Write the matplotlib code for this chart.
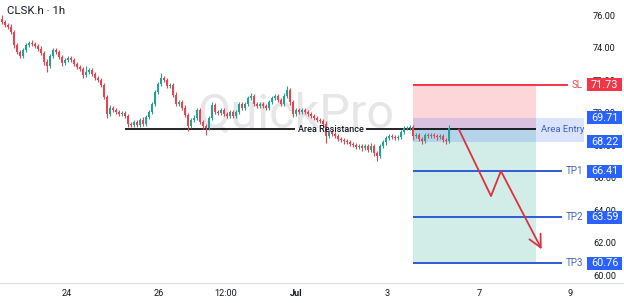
import numpy as np
import matplotlib
matplotlib.use("Agg")
import matplotlib.pyplot as plt
from matplotlib.patches import Rectangle
from matplotlib.transforms import blended_transform_factory

plt.rcParams['font.family'] = ['Roboto', 'DejaVu Sans']

# --- data (hourly candles, CLSK) ---
open0 = 75.80
closes = [
    75.59, 75.40, 75.28, 74.97, 74.17, 73.74, 73.50, 73.86, 74.17, 74.30,
    74.23, 74.11, 73.93, 73.68, 73.13, 72.88, 73.50, 73.86, 73.74, 73.43,
    73.06, 73.25, 73.37, 73.25, 73.00, 72.82, 72.70, 72.33, 72.51, 72.63,
    72.39, 72.14, 72.02, 71.71, 70.97, 69.93, 70.30, 70.17, 70.05, 69.93,
    69.99, 69.80, 69.31, 69.25, 69.43, 69.25, 69.56, 69.31, 69.74, 70.05,
    70.54, 71.28, 71.77, 72.14, 72.02, 71.65, 71.71, 71.10, 70.54, 70.66,
    70.30, 69.86, 69.19, 69.56, 69.68, 70.17, 69.43, 69.19, 69.06, 69.68,
    70.48, 70.05, 69.99, 70.17, 69.93, 69.80, 70.05, 69.80, 70.05, 70.54,
    70.30, 70.54, 70.91, 71.03, 70.54, 70.42, 70.54, 70.42, 70.30, 70.66,
    70.91, 71.03, 70.79, 70.54, 71.03, 71.40, 70.66, 69.93, 70.17, 70.05,
    70.17, 70.05, 69.93, 69.80, 69.68, 69.56, 69.49, 69.31, 68.57, 68.82,
    68.69, 68.57, 68.39, 68.33, 68.26, 68.20, 68.08, 68.02, 67.89, 67.96,
    67.83, 67.96, 67.71, 67.96, 67.53, 67.34, 67.96, 68.20, 68.45, 68.57,
    68.51, 68.45, 68.51, 68.82, 69.06, 69.06, 69.13, 68.57, 68.63, 68.39,
    68.26, 68.63, 68.57, 68.63, 68.57, 68.51, 68.57, 68.33, 68.26, 69.06,
]
wick_hi = [
    0.20, 0.15, 0.10, 0.20, 0.15, 0.10, 0.10, 0.15, 0.10, 0.10,
    0.15, 0.10, 0.10, 0.15, 0.10, 0.20, 0.10, 0.15, 0.10, 0.10,
    0.15, 0.10, 0.10, 0.15, 0.10, 0.10, 0.15, 0.10, 0.35, 0.10,
    0.10, 0.15, 0.10, 0.10, 0.10, 0.15, 0.20, 0.10, 0.15, 0.10,
    0.10, 0.15, 0.10, 0.10, 0.15, 0.10, 0.10, 0.20, 0.10, 0.15,
    0.10, 0.15, 0.10, 0.30, 0.10, 0.15, 0.10, 0.10, 0.15, 0.10,
    0.10, 0.15, 0.10, 0.15, 0.20, 0.10, 0.15, 0.10, 0.10, 0.15,
    0.20, 0.10, 0.10, 0.15, 0.10, 0.10, 0.15, 0.10, 0.10, 0.15,
    0.10, 0.10, 0.15, 0.20, 0.10, 0.15, 0.10, 0.10, 0.15, 0.10,
    0.10, 0.15, 0.10, 0.10, 0.20, 0.25, 0.10, 0.15, 0.10, 0.10,
    0.15, 0.10, 0.10, 0.15, 0.10, 0.10, 0.15, 0.10, 0.20, 0.10,
    0.15, 0.10, 0.10, 0.15, 0.10, 0.10, 0.15, 0.10, 0.10, 0.15,
    0.10, 0.15, 0.10, 0.20, 0.10, 0.10, 0.15, 0.10, 0.15, 0.10,
    0.10, 0.15, 0.10, 0.15, 0.10, 0.15, 0.10, 0.10, 0.15, 0.10,
    0.10, 0.10, 0.15, 0.10, 0.10, 0.10, 0.15, 0.10, 0.10, 0.20,
]
wick_lo = [
    0.10, 0.15, 0.10, 0.10, 0.20, 0.10, 0.15, 0.10, 0.10, 0.15,
    0.10, 0.10, 0.15, 0.10, 0.20, 0.35, 0.10, 0.10, 0.15, 0.10,
    0.15, 0.10, 0.10, 0.10, 0.15, 0.10, 0.10, 0.20, 0.10, 0.10,
    0.15, 0.10, 0.10, 0.15, 0.10, 0.25, 0.10, 0.15, 0.10, 0.10,
    0.15, 0.10, 0.20, 0.10, 0.10, 0.15, 0.10, 0.10, 0.15, 0.10,
    0.10, 0.10, 0.15, 0.10, 0.10, 0.15, 0.10, 0.10, 0.15, 0.10,
    0.15, 0.10, 0.30, 0.10, 0.10, 0.15, 0.10, 0.20, 0.45, 0.10,
    0.10, 0.15, 0.10, 0.10, 0.15, 0.10, 0.10, 0.15, 0.10, 0.10,
    0.15, 0.10, 0.10, 0.10, 0.15, 0.10, 0.10, 0.15, 0.10, 0.10,
    0.10, 0.15, 0.10, 0.10, 0.10, 0.10, 0.15, 0.20, 0.10, 0.10,
    0.15, 0.10, 0.10, 0.10, 0.15, 0.10, 0.10, 0.15, 0.40, 0.10,
    0.10, 0.15, 0.10, 0.10, 0.15, 0.10, 0.10, 0.15, 0.10, 0.10,
    0.15, 0.10, 0.15, 0.10, 0.20, 0.30, 0.10, 0.10, 0.15, 0.10,
    0.10, 0.15, 0.10, 0.10, 0.15, 0.10, 0.10, 0.25, 0.10, 0.15,
    0.20, 0.10, 0.15, 0.10, 0.10, 0.20, 0.10, 0.15, 0.20, 0.10,
]

# trade setup levels
sl = 71.73
entry_hi, entry_lo = 69.71, 68.22
resistance = 68.98
tps = [("TP1", 66.41), ("TP2", 63.59), ("TP3", 60.76)]
# projected path (bar index, price)
path_x = [152.3, 163.0, 166.3]
path_y = [68.98, 64.88, 66.42]
arrow_tip = (179.9, 61.6)

xtick_pos = [21.67, 52.33, 74.67, 98.0, 128.33, 159.0, 189.33]
xtick_lbl = ["24", "26", "12:00", "Jul", "3", "7", "9"]
ytick_vals = [60, 62, 64, 66, 68, 70, 72, 74, 76]

UP, DN = '#22a294', '#e9434f'
RED, BLUE = '#f23645', '#2962ff'

fig = plt.figure(figsize=(6.24, 3.03), dpi=100)
ax = fig.add_axes([0, 20 / 303, 1, 283 / 303])
ax.set_xlim(-0.667, 207.33)
ax.set_ylim(59.53, 76.94)

closes = np.array(closes)
opens = np.r_[open0, closes[:-1]]
highs = np.maximum(opens, closes) + np.array(wick_hi)
lows = np.minimum(opens, closes) - np.array(wick_lo)
x = np.arange(len(closes))
cols = np.where(closes >= opens, UP, DN)

# watermark
ax.text(0.474, 0.548, "QuickPro", transform=ax.transAxes, fontsize=35,
        color='#e6e6e9', ha='center', va='baseline', zorder=0)

# zones
bx0, bx1 = 137.0, 178.0
ax.add_patch(Rectangle((bx0, resistance), bx1 - bx0, sl - resistance,
                       color=RED, alpha=0.2, lw=0, zorder=1))
ax.add_patch(Rectangle((bx0, tps[-1][1]), bx1 - bx0, resistance - tps[-1][1],
                       color='#089981', alpha=0.18, lw=0, zorder=1))
ax.add_patch(Rectangle((bx0, entry_lo), 194.0 - bx0, entry_hi - entry_lo,
                       color=BLUE, alpha=0.17, lw=0, zorder=1))

# resistance line, broken around its label
ax.hlines(resistance, 41.0, 97.7, color='black', lw=1.2, zorder=2)
ax.hlines(resistance, 121.3, bx1, color='black', lw=1.2, zorder=2)
ax.text(109.5, resistance, "Area Resistance", ha='center', va='center',
        fontsize=6.5, fontweight='medium', color='#131722', zorder=5)

# candles
ax.vlines(x, lows, highs, colors=cols, lw=0.8, zorder=3)
ax.bar(x, closes - opens, bottom=opens, width=0.72, color=cols, lw=0, zorder=3)

# SL / TP lines
ax.hlines(sl, bx0, 188.7, color=RED, lw=1.4, zorder=4)
for name, lvl in tps:
    ax.hlines(lvl, bx0, 186.7, color='#1e4fd6', lw=1.3, zorder=4)

trans = blended_transform_factory(ax.transAxes, ax.transData)
ax.text(0.925, sl, "SL", transform=trans, ha='center', va='center',
        fontsize=7, color='#e0505e', zorder=5)
for name, lvl in tps:
    ax.text(0.921, lvl, name, transform=trans, ha='center', va='center',
            fontsize=7, color='#4a64b4', zorder=5)
ax.text(0.901, resistance, "Area Entry", transform=trans, ha='center',
        va='center', fontsize=6.8, color='#3f63c4', zorder=5)

# price boxes on the scale
boxes = [(sl, RED)] + [(entry_hi, BLUE), (entry_lo, BLUE)] + [(v, BLUE) for _, v in tps]
for val, c in boxes:
    ax.add_patch(Rectangle((0.9407, val - 0.4), 0.0561, 0.8, transform=trans,
                           color=c, lw=0, zorder=6, clip_on=False))
    ax.text(0.969, val, f"{val:.2f}", transform=trans, ha='center', va='center',
            fontsize=7.8, color='white', zorder=7)

# projected move
ax.plot(path_x, path_y, color='#d9323f', lw=1.3, zorder=5, solid_capstyle='round')
ax.annotate("", xy=arrow_tip, xytext=(path_x[-1], path_y[-1]),
            arrowprops=dict(arrowstyle='->,head_length=0.9,head_width=0.45',
                            color='#d9323f', lw=1.3, shrinkA=0, shrinkB=0),
            zorder=5)

# title
ax.text(0.011, 0.961, "CLSK.h · 1h", transform=ax.transAxes, fontsize=8.2,
        color='#131722', ha='left', va='center')

# axes styling
for s in ['top', 'left', 'right']:
    ax.spines[s].set_visible(False)
ax.spines['bottom'].set_color('#dcdcdc')
ax.spines['bottom'].set_linewidth(0.8)

ax.set_xticks(xtick_pos)
ax.set_xticklabels(xtick_lbl)
ax.tick_params(axis='x', length=0, pad=4, labelsize=6.6, labelcolor='#131722')
for lab in ax.get_xticklabels():
    if lab.get_text() == "Jul":
        lab.set_fontweight('bold')

ax.yaxis.tick_right()
ax.set_yticks(ytick_vals)
ax.set_yticklabels([f"{v:.2f}" for v in ytick_vals])
ax.tick_params(axis='y', length=0, pad=-22.3, labelsize=6.6, labelcolor='#131722')

fig.savefig("out.png", dpi=100)
